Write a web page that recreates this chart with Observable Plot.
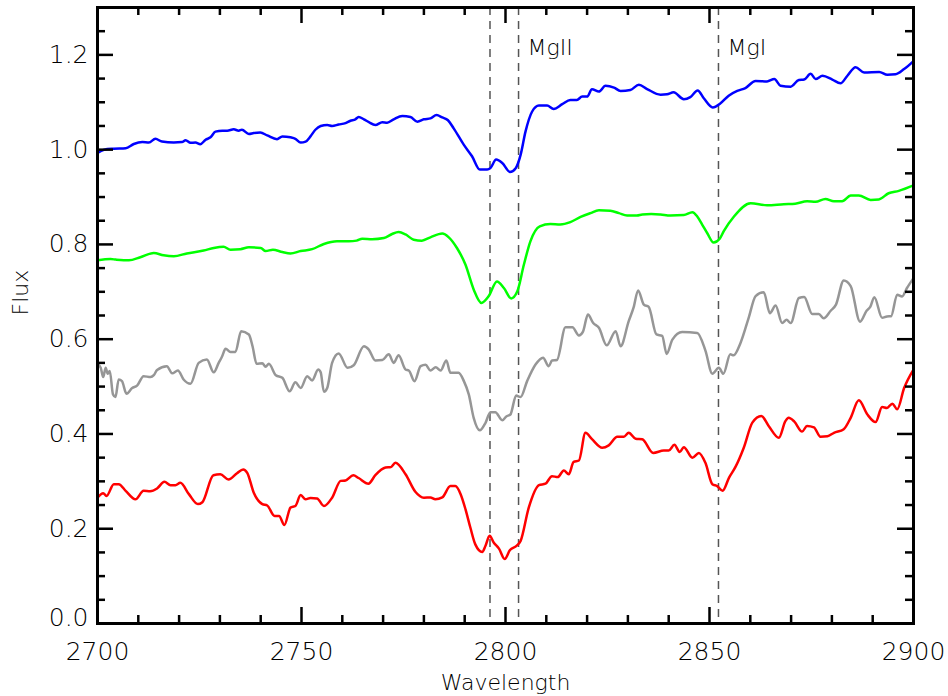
<!DOCTYPE html>
<html>
<head>
<meta charset="utf-8">
<script src="https://cdn.jsdelivr.net/npm/d3@7"></script>
<script src="https://cdn.jsdelivr.net/npm/@observablehq/plot@0.6"></script>
<style>
  html, body { margin: 0; padding: 0; background: #fff; }
  #chart { width: 948px; height: 696px; }
</style>
</head>
<body>
<div id="chart"></div>
<script>
// ---- Data (wavelength, flux) ----
const blue = [
  [2700.0,0.993],[2701.6,1.000],[2704.0,1.002],[2706.9,1.003],[2708.9,1.012],[2711.0,1.016],[2712.6,1.015],
  [2714.2,1.023],[2715.8,1.017],[2718.7,1.015],[2720.7,1.016],[2721.6,1.020],[2722.8,1.0145],[2724.0,1.015],
  [2725.2,1.0116],[2726.5,1.021],[2727.7,1.026],[2728.9,1.038],[2730.6,1.040],[2731.8,1.040],[2733.4,1.043],
  [2734.6,1.040],[2735.4,1.042],[2737.1,1.033],[2738.3,1.035],[2739.9,1.036],[2741.6,1.030],[2744.0,1.022],
  [2745.3,1.028],[2747.3,1.026],[2748.5,1.023],[2749.8,1.015],[2751.0,1.017],[2752.2,1.028],[2753.4,1.042],
  [2754.7,1.050],[2756.3,1.052],[2757.5,1.050],[2759.1,1.053],[2760.8,1.056],[2762.0,1.061],[2763.2,1.064],
  [2764.0,1.069],[2765.3,1.064],[2766.5,1.058],[2768.1,1.052],[2769.8,1.058],[2771.0,1.057],[2772.6,1.064],
  [2774.7,1.071],[2776.7,1.069],[2778.4,1.059],[2780.0,1.064],[2781.6,1.066],[2783.1,1.073],[2784.5,1.068],
  [2785.9,1.062],[2787.3,1.045],[2789.8,1.010],[2791.8,0.986],[2793.7,0.958],[2795.5,0.958],[2796.3,0.961],
  [2797.7,0.979],[2799.2,0.972],[2801.1,0.953],[2802.5,0.961],[2803.7,0.989],[2804.9,1.038],[2806.5,1.080],
  [2808.2,1.093],[2810.2,1.093],[2811.8,1.086],[2813.9,1.096],[2815.9,1.105],[2817.5,1.105],[2818.8,1.112],
  [2820.0,1.112],[2821.2,1.1275],[2822.9,1.1226],[2824.5,1.1347],[2826.6,1.131],[2828.2,1.124],[2830.6,1.126],
  [2832.7,1.137],[2834.7,1.128],[2838.0,1.116],[2839.6,1.117],[2841.2,1.121],[2843.7,1.1065],[2845.3,1.111],
  [2847.1,1.125],[2848.6,1.1085],[2850.8,1.089],[2852.7,1.098],[2854.7,1.114],[2856.8,1.124],[2858.8,1.130],
  [2861.3,1.145],[2864.1,1.144],[2865.9,1.149],[2867.4,1.135],[2869.9,1.133],[2871.9,1.147],[2873.2,1.148],
  [2874.8,1.160],[2876.0,1.149],[2877.7,1.156],[2880.1,1.148],[2882.1,1.140],[2883.8,1.156],[2885.8,1.174],
  [2887.9,1.163],[2891.6,1.164],[2893.6,1.158],[2895.6,1.159],[2897.7,1.170],[2900.0,1.187]
];
const green = [
  [2700.0,0.7665],[2703.2,0.769],[2704.5,0.768],[2707.7,0.7665],[2710.5,0.773],[2713.8,0.782],[2716.2,0.777],
  [2718.7,0.775],[2721.9,0.781],[2726.0,0.787],[2728.5,0.7925],[2730.9,0.795],[2732.6,0.789],[2735.0,0.790],
  [2737.1,0.794],[2740.0,0.7925],[2741.2,0.786],[2743.0,0.789],[2745.3,0.784],[2747.3,0.781],[2749.8,0.786],
  [2752.6,0.790],[2755.5,0.801],[2758.7,0.8065],[2761.6,0.8065],[2763.5,0.808],[2764.9,0.812],[2767.3,0.811],
  [2770.2,0.8135],[2772.2,0.822],[2773.8,0.826],[2775.5,0.821],[2777.5,0.810],[2779.5,0.808],[2781.6,0.815],
  [2784.5,0.823],[2786.1,0.815],[2788.1,0.7925],[2790.2,0.757],[2792.2,0.705],[2794.1,0.6765],[2795.9,0.691],
  [2797.9,0.722],[2799.6,0.708],[2801.4,0.686],[2802.9,0.701],[2804.5,0.757],[2806.1,0.8065],[2808.4,0.838],
  [2811.0,0.843],[2813.4,0.842],[2815.9,0.847],[2818.4,0.858],[2820.8,0.866],[2822.9,0.872],[2825.7,0.871],
  [2827.8,0.866],[2829.8,0.861],[2832.2,0.861],[2833.5,0.863],[2835.7,0.864],[2838.0,0.863],[2840.4,0.861],
  [2843.7,0.862],[2845.8,0.868],[2847.0,0.859],[2848.2,0.842],[2849.5,0.823],[2851.0,0.804],[2852.5,0.812],
  [2853.5,0.828],[2856.0,0.859],[2860.1,0.887],[2864.1,0.8825],[2868.2,0.885],[2871.0,0.886],[2873.9,0.891],
  [2876.0,0.890],[2878.4,0.896],[2880.5,0.891],[2882.5,0.891],[2884.6,0.903],[2886.6,0.9035],[2889.5,0.894],
  [2891.5,0.895],[2893.9,0.908],[2896.4,0.913],[2900.0,0.9245]
];
const gray = [
  [2700.0,0.548],[2700.8,0.5395],[2701.4,0.520],[2702.0,0.5395],[2702.5,0.527],[2703.0,0.533],[2703.8,0.4835],
  [2704.4,0.478],[2705.2,0.515],[2706.0,0.5115],[2707.1,0.485],[2708.5,0.497],[2709.7,0.502],[2711.3,0.522],
  [2713.0,0.520],[2713.8,0.524],[2714.6,0.535],[2717.0,0.543],[2718.3,0.528],[2719.7,0.534],[2721.1,0.515],
  [2722.8,0.506],[2724.8,0.550],[2726.8,0.557],[2728.5,0.530],[2729.7,0.550],[2730.5,0.563],[2731.4,0.580],
  [2732.6,0.573],[2733.8,0.573],[2735.2,0.617],[2737.1,0.610],[2738.0,0.585],[2739.0,0.548],[2740.4,0.549],
  [2741.2,0.542],[2742.0,0.548],[2743.7,0.524],[2745.3,0.5185],[2747.1,0.490],[2748.5,0.509],[2749.8,0.497],
  [2751.4,0.522],[2752.6,0.513],[2754.1,0.536],[2754.7,0.530],[2755.5,0.489],[2756.3,0.497],[2757.5,0.550],
  [2759.1,0.570],[2761.3,0.5395],[2762.8,0.545],[2765.3,0.585],[2766.5,0.578],[2768.1,0.555],[2769.8,0.556],
  [2771.4,0.568],[2772.6,0.550],[2773.8,0.566],[2775.5,0.536],[2776.3,0.534],[2777.7,0.5115],[2779.2,0.543],
  [2780.4,0.546],[2781.6,0.534],[2782.9,0.541],[2784.1,0.534],[2785.5,0.555],[2786.5,0.529],[2788.5,0.529],
  [2789.8,0.5115],[2791.0,0.4835],[2792.2,0.434],[2793.7,0.4076],[2795.1,0.4236],[2796.3,0.446],[2797.5,0.446],
  [2799.2,0.429],[2800.2,0.437],[2801.2,0.441],[2802.6,0.481],[2803.7,0.478],[2805.3,0.5115],[2807.4,0.547],
  [2809.2,0.561],[2810.6,0.543],[2811.4,0.555],[2812.6,0.556],[2814.7,0.625],[2816.4,0.625],[2818.0,0.608],
  [2819.0,0.616],[2820.2,0.652],[2821.5,0.634],[2822.9,0.624],[2824.8,0.587],[2827.0,0.617],[2828.2,0.585],
  [2830.2,0.638],[2831.4,0.667],[2832.5,0.703],[2833.9,0.673],[2835.1,0.668],[2837.0,0.610],[2838.4,0.607],
  [2839.5,0.569],[2840.9,0.599],[2843.3,0.615],[2847.0,0.613],[2849.0,0.576],[2850.7,0.527],[2852.3,0.5395],
  [2853.4,0.527],[2855.1,0.568],[2855.9,0.566],[2857.6,0.592],[2859.6,0.645],[2861.3,0.691],[2863.3,0.699],
  [2864.8,0.655],[2866.2,0.671],[2867.8,0.634],[2868.9,0.641],[2869.9,0.634],[2871.9,0.687],[2873.2,0.689],
  [2875.2,0.653],[2876.8,0.653],[2878.0,0.644],[2879.7,0.660],[2881.0,0.673],[2882.9,0.724],[2884.6,0.712],
  [2886.9,0.637],[2888.5,0.660],[2889.4,0.668],[2890.4,0.6885],[2892.3,0.645],[2893.5,0.648],[2894.5,0.6485],
  [2896.0,0.694],[2897.2,0.690],[2898.4,0.708],[2900.0,0.729]
];
const red = [
  [2700.0,0.2655],[2701.4,0.275],[2702.2,0.269],[2704.0,0.294],[2705.2,0.294],[2706.9,0.280],[2709.3,0.262],
  [2711.3,0.280],[2712.9,0.279],[2714.6,0.285],[2716.4,0.299],[2717.9,0.292],[2719.1,0.292],[2720.3,0.297],
  [2722.4,0.273],[2724.6,0.252],[2725.7,0.256],[2728.4,0.313],[2730.1,0.315],[2732.1,0.304],[2734.2,0.317],
  [2735.7,0.325],[2736.7,0.318],[2738.3,0.276],[2740.4,0.252],[2741.6,0.249],[2743.4,0.227],[2744.5,0.227],
  [2745.8,0.208],[2747.3,0.2445],[2748.5,0.248],[2749.8,0.271],[2751.0,0.262],[2752.2,0.265],[2753.8,0.264],
  [2755.5,0.248],[2757.5,0.2655],[2759.6,0.301],[2760.8,0.302],[2762.7,0.313],[2764.0,0.307],[2766.4,0.295],
  [2768.1,0.313],[2770.6,0.329],[2771.9,0.330],[2773.0,0.339],[2775.5,0.315],[2777.9,0.278],[2780.0,0.2655],
  [2781.6,0.266],[2782.8,0.262],[2784.5,0.266],[2786.5,0.290],[2787.7,0.290],[2789.0,0.273],[2790.2,0.241],
  [2791.4,0.202],[2792.6,0.167],[2794.3,0.151],[2795.1,0.164],[2796.1,0.185],[2797.1,0.171],[2798.4,0.158],
  [2799.8,0.136],[2801.1,0.155],[2802.7,0.164],[2803.7,0.174],[2805.7,0.2445],[2808.2,0.292],[2809.8,0.295],
  [2811.4,0.311],[2812.8,0.309],[2814.3,0.323],[2815.5,0.315],[2816.7,0.341],[2818.0,0.344],[2819.6,0.4025],
  [2821.2,0.389],[2823.7,0.371],[2825.3,0.376],[2827.4,0.394],[2829.0,0.394],[2830.2,0.4025],[2831.9,0.390],
  [2833.5,0.389],[2836.2,0.360],[2838.8,0.365],[2840.0,0.365],[2841.4,0.377],[2842.7,0.362],[2843.7,0.372],
  [2845.8,0.350],[2847.4,0.360],[2849.0,0.339],[2850.7,0.294],[2851.9,0.290],[2853.2,0.280],[2854.8,0.308],
  [2856.4,0.331],[2858.4,0.371],[2860.5,0.424],[2862.7,0.438],[2864.5,0.417],[2867.0,0.392],[2868.6,0.427],
  [2869.4,0.434],[2870.8,0.426],[2872.7,0.405],[2873.9,0.417],[2875.6,0.414],[2877.2,0.394],[2878.9,0.395],
  [2880.5,0.4025],[2882.9,0.410],[2884.6,0.434],[2886.6,0.471],[2888.7,0.441],[2890.7,0.425],[2892.3,0.457],
  [2893.5,0.455],[2894.8,0.464],[2896.0,0.452],[2897.7,0.497],[2900.0,0.536]
];

// line markers
const lineWaves = [2796.2, 2803.2, 2852.2];
const lineLabels = [{x: 2803.2, label: "MgII"}, {x: 2852.2, label: "MgI"}];

// ticks
const xMajor = [2700, 2750, 2800, 2850, 2900];
const xMinor = [2710,2720,2730,2740,2760,2770,2780,2790,2810,2820,2830,2840,2860,2870,2880,2890];
const yMajor = [0, 0.2, 0.4, 0.6, 0.8, 1.0, 1.2];
const yMinor = [0.05,0.1,0.15,0.25,0.3,0.35,0.45,0.5,0.55,0.65,0.7,0.75,0.85,0.9,0.95,1.05,1.1,1.15,1.25];

const W = 948, H = 696;
const M = {left: 97, right: 35, top: 7, bottom: 73};
const frameW = W - M.left - M.right;   // inner width
const frameH = H - M.top - M.bottom;   // inner height
const MAJ = 16, MIN = 8;

const FONT = "DejaVu Sans";
const series = [
  {data: blue, color: "#0000ff"},
  {data: green, color: "#00ff00"},
  {data: gray, color: "#969696"},
  {data: red, color: "#ff0000"}
];

const tk = {stroke: "black", strokeWidth: 2.5};
const yLab = {anchor: "left", tickSize: 0, tickPadding: 9, fontSize: 25, fontWeight: 300, tickFormat: d3.format(".1f"), label: null};

const chart = Plot.plot({
  width: W,
  height: H,
  marginLeft: M.left,
  marginRight: M.right,
  marginTop: M.top,
  marginBottom: M.bottom,
  x: {domain: [2700, 2900]},
  y: {domain: [0, 1.3]},
  style: {fontFamily: FONT, background: "white", color: "black"},
  marks: [
    Plot.ruleX(lineWaves, {stroke: "#555", strokeWidth: 1.5, strokeDasharray: "8,6"}),
    ...series.map(s => Plot.line(s.data, {x: d => d[0], y: d => d[1], curve: "monotone-x", stroke: s.color, strokeWidth: 2.5, strokeLinejoin: "round"})),
    Plot.text(lineLabels, {x: "x", text: "label", frameAnchor: "top", dy: 40, dx: 9, textAnchor: "start", lineAnchor: "middle", fontSize: 22, fontWeight: 300, fill: "black"}),
    // inward tick marks on all four sides
    Plot.tickX(xMajor, {x: d => d, insetTop: frameH - MAJ, ...tk}),
    Plot.tickX(xMinor, {x: d => d, insetTop: frameH - MIN, ...tk}),
    Plot.tickX(xMajor, {x: d => d, insetBottom: frameH - MAJ, ...tk}),
    Plot.tickX(xMinor, {x: d => d, insetBottom: frameH - MIN, ...tk}),
    Plot.tickY(yMajor, {y: d => d, insetRight: frameW - MAJ, ...tk}),
    Plot.tickY(yMinor, {y: d => d, insetRight: frameW - MIN, ...tk}),
    Plot.tickY(yMajor, {y: d => d, insetLeft: frameW - MAJ, ...tk}),
    Plot.tickY(yMinor, {y: d => d, insetLeft: frameW - MIN, ...tk}),
    // tick labels
    Plot.axisX(xMajor, {anchor: "bottom", tickSize: 0, tickPadding: 19, fontSize: 25, fontWeight: 300, tickFormat: d3.format("d"), label: null}),
    Plot.axisY(yMajor.filter(v => v > 0), yLab),
    Plot.axisY(yMajor.filter(v => v === 0), {...yLab, dy: -6}),
    Plot.frame({stroke: "black", strokeWidth: 3}),
    Plot.text(["Wavelength"], {frameAnchor: "bottom", dy: 59, text: d => d, fontSize: 22, fontWeight: 300, lineAnchor: "middle", fill: "black"}),
    Plot.text(["Flux"], {frameAnchor: "left", dx: -77, rotate: -90, text: d => d, fontSize: 22, fontWeight: 300, lineAnchor: "middle", fill: "black"})
  ]
});
document.getElementById("chart").appendChild(chart);
</script>
</body>
</html>
